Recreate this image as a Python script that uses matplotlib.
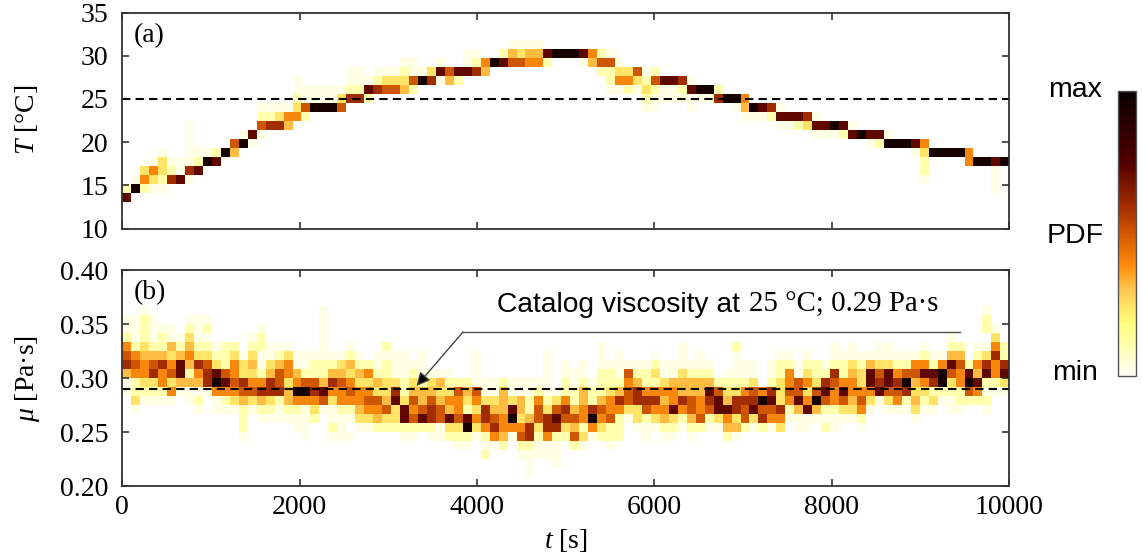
import numpy as np
import matplotlib
matplotlib.use('Agg')
import matplotlib.pyplot as plt
from matplotlib.cm import ScalarMappable
from matplotlib.colors import LinearSegmentedColormap, Normalize

plt.rcParams['font.family'] = ['Liberation Serif', 'DejaVu Serif']
plt.rcParams['mathtext.fontset'] = 'custom'
plt.rcParams['mathtext.rm'] = 'Liberation Serif'
plt.rcParams['mathtext.it'] = 'Liberation Serif:italic'

# Histogram of each time column.
# Every string lists the shade of the cells from the top cell downwards
# (0 empty ... 9 darkest), the *_top list gives the row of that top cell.
temp_top = [4, 5, 6, 7, 8, 7, 7, 11, 8, 8, 8, 8, 9, 10, 10, 13, 13, 13, 13, 16,
            15, 15, 15, 15, 15, 17, 17, 16, 17, 17, 17, 18, 18, 17, 17, 18, 17, 17, 19, 19,
            18, 18, 19, 20, 20, 20, 20, 19, 19, 19, 19, 19, 19, 19, 19, 18, 17, 17, 17, 17,
            16, 16, 16, 16, 15, 15, 15, 14, 14, 14, 13, 13, 13, 13, 12, 12, 12, 12, 11, 11,
            11, 11, 10, 10, 10, 10, 9, 9, 9, 9, 8, 8, 8, 8, 8, 7, 7, 7, 7]
temp_cells = ['28', '19', '352', '1531', '13321', '127', '118', '1111171', '128', '19',
              '28', '9', '64', '19', '81', '1261', '127', '137', '154', '11235',
              '1162', '119', '119', '119', '136', '1127', '1127', '182', '127', '136',
              '136', '1234', '1162', '19', '37', '181', '64', '82', '118', '127',
              '54', '9', '28', '146', '136', '145', '145', '82', '9', '9',
              '9', '81', '54', '262', '16221', '1351', '352', '631', '12321', '26211',
              '811', '811', '721', '1811', '91', '91', '27', '9', '91', '541',
              '91', '81', '72', '181', '81', '82', '73', '181', '81', '91',
              '82', '18', '9', '81', '82', '19', '9', '9', '81', '53221',
              '9', '9', '9', '9', '55', '9', '9', '8111', '9']

visc_top = [18, 18, 19, 18, 17, 17, 16, 18, 18, 18, 15, 15, 15, 14, 16, 17, 15, 15, 15, 14,
            14, 14, 19, 14, 14, 15, 14, 13, 14, 15, 14, 14, 13, 14, 12, 12, 12, 11, 11, 14,
            11, 11, 11, 11, 11, 11, 11, 14, 10, 13, 12, 13, 11, 15, 13, 14, 13, 13, 13, 14,
            13, 13, 15, 13, 14, 13, 11, 12, 15, 13, 13, 10, 13, 14, 14, 13, 14, 13, 13, 15,
            14, 15, 14, 14, 15, 15, 14, 14, 14, 15, 14, 14, 16, 15, 13, 15, 19, 17, 15]
visc_cells = ['112567411', '11125652231', '12223455321', '1112467321', '122475521',
              '114356351', '1248841', '1234542411', '11123754121', '121236771',
              '12389511', '22268521', '23556531', '1337642221', '123435631',
              '12211257421', '113477321', '124667211', '135534421', '114595211',
              '1126951111', '12267532', '111111224861', '1247531121', '1346552111',
              '12435652101', '124355431', '25356531', '112436542', '2122334632',
              '111378332', '1112238821', '123465621', '111244682', '13467721',
              '14346611', '12354832', '26556321', '24328921', '1111653531',
              '113775212', '11346751', '24445542', '1138951', '114435621',
              '11224772111', '125663211', '111112377511', '136872111', '112257632',
              '112246462', '1124455231', '1227951', '11122246532', '1223556221',
              '1112475222', '1656631', '12477331', '122576211', '123257531',
              '113545421', '114558321', '1113447521', '124466421', '112445562',
              '12487621', '268831', '12348542', '21112377341', '11257662',
              '11367831', '59672', '11278651', '122333753', '12556521',
              '11668411', '123535811', '2236941', '12786212', '1127655211',
              '12258631', '113455431', '123356521', '1488531', '1136781',
              '11388631', '1257651', '1269721', '15643431', '12585321',
              '1287231', '159921', '124863211', '24655221', '28962',
              '1254852', '122013782121', '13575521', '227831']

t_ticks = [0, 2000, 4000, 6000, 8000, 10000]
temp_ticks = [10, 15, 20, 25, 30, 35]
visc_ticks = [0.20, 0.25, 0.30, 0.35, 0.40]
shade_values = [0, 0.025, 0.11, 0.24, 0.32, 0.40, 0.50, 0.60, 0.72, 0.95]

pal = LinearSegmentedColormap.from_list('pdf', [
    (0.0, '#fffff4'), (0.18, '#ffff80'), (0.30, '#ffc850'), (0.38, '#ff9010'),
    (0.48, '#d86000'), (0.60, '#a02c00'), (0.75, '#500000'), (1.0, '#0a0000')])


def to_grid(tops, cells, n_rows):
    grid = np.zeros((n_rows, len(cells)))
    for col, (top, levels) in enumerate(zip(tops, cells)):
        for j, ch in enumerate(levels):
            grid[top - j, col] = shade_values[int(ch)]
    return np.ma.masked_equal(grid, 0)


W, H = 1143, 560
fig = plt.figure(figsize=(W / 100, H / 100), dpi=100)
ax1 = fig.add_axes([122.3 / W, 1 - 228.7 / H, 887 / W, 216.2 / H])
ax2 = fig.add_axes([122.3 / W, 1 - 486.2 / H, 887 / W, 216.2 / H])

t_edges = np.linspace(0, 10000, len(temp_cells) + 1)
temp_edges = np.linspace(10, 35, 25)
visc_edges = np.linspace(0.2, 0.4, 25)

ax1.pcolormesh(t_edges, temp_edges, to_grid(temp_top, temp_cells, 24), cmap=pal, vmin=0, vmax=1)
ax2.pcolormesh(t_edges, visc_edges, to_grid(visc_top, visc_cells, 24), cmap=pal, vmin=0, vmax=1)

ax1.axhline(25, color='black', lw=1.5, dashes=(4, 2.5))
ax2.axhline(0.29, color='black', lw=1.5, dashes=(4, 2.5))

for ax in (ax1, ax2):
    ax.set_xlim(0, 10000)
    ax.set_xticks(t_ticks)
    ax.tick_params(direction='in', length=4.7, width=1.1, top=True, right=True,
                   labelsize=20, color='#222222')
    ax.tick_params(axis='y', pad=10)
    ax.tick_params(axis='x', pad=6)
    for s in ax.spines.values():
        s.set_linewidth(1.3)
        s.set_color('#333333')

ax1.set_ylim(10, 35)
ax1.set_yticks(temp_ticks)
ax1.tick_params(labelbottom=False)
ax2.set_ylim(0.2, 0.4)
ax2.set_yticks(visc_ticks)
ax2.set_yticklabels(['%.2f' % v for v in visc_ticks])

fig.text(27 / W, 1 - 120 / H, r'$\mathit{T}$ [°C]', rotation=90, fontsize=20, ha='center', va='center')
fig.text(27 / W, 1 - 378 / H, r'$\mathit{\mu}$ [Pa·s]', rotation=90, fontsize=20, ha='center', va='center')
fig.text(566 / W, 1 - 541 / H, r'$\mathit{t}$ [s]', fontsize=20, ha='center', va='center')
fig.text(134 / W, 1 - 36 / H, '(a)', fontsize=20, va='center')
fig.text(134 / W, 1 - 293 / H, '(b)', fontsize=20, va='center')

# annotation for the catalog value
sans = ['Liberation Sans', 'DejaVu Sans']
fig.text(497 / W, 1 - 312 / H, 'Catalog viscosity at', family=sans, fontsize=20.3, va='baseline')
fig.text(749 / W, 1 - 312 / H, '25 °C; 0.29 Pa·s', fontsize=20.8, va='baseline')
fig.add_artist(plt.Line2D([960 / W, 463 / W], [1 - 332 / H, 1 - 332 / H], color='#555555', lw=1))
fig.add_artist(plt.Annotation('', xy=(416.5 / W, 1 - 386 / H), xytext=(463 / W, 1 - 332 / H),
                              xycoords='figure fraction', textcoords='figure fraction',
                              arrowprops=dict(arrowstyle='-|>', color='#444444', fc='black', lw=1,
                                              mutation_scale=20, shrinkA=0, shrinkB=0)))

# colour scale on the right
cax = fig.add_axes([1118.3 / W, 1 - 375.7 / H, 17.4 / W, 285 / H])
cb = fig.colorbar(ScalarMappable(Normalize(0, 1), pal), cax=cax)
cb.set_ticks([])
cb.outline.set_edgecolor('#555555')
cb.outline.set_linewidth(1)
for label, py in (('max', 90), ('PDF', 236), ('min', 373)):
    fig.text(1075 / W, 1 - py / H, label, family=sans, fontsize=20.5, ha='center', va='center')

fig.savefig('out.png', dpi=100)
